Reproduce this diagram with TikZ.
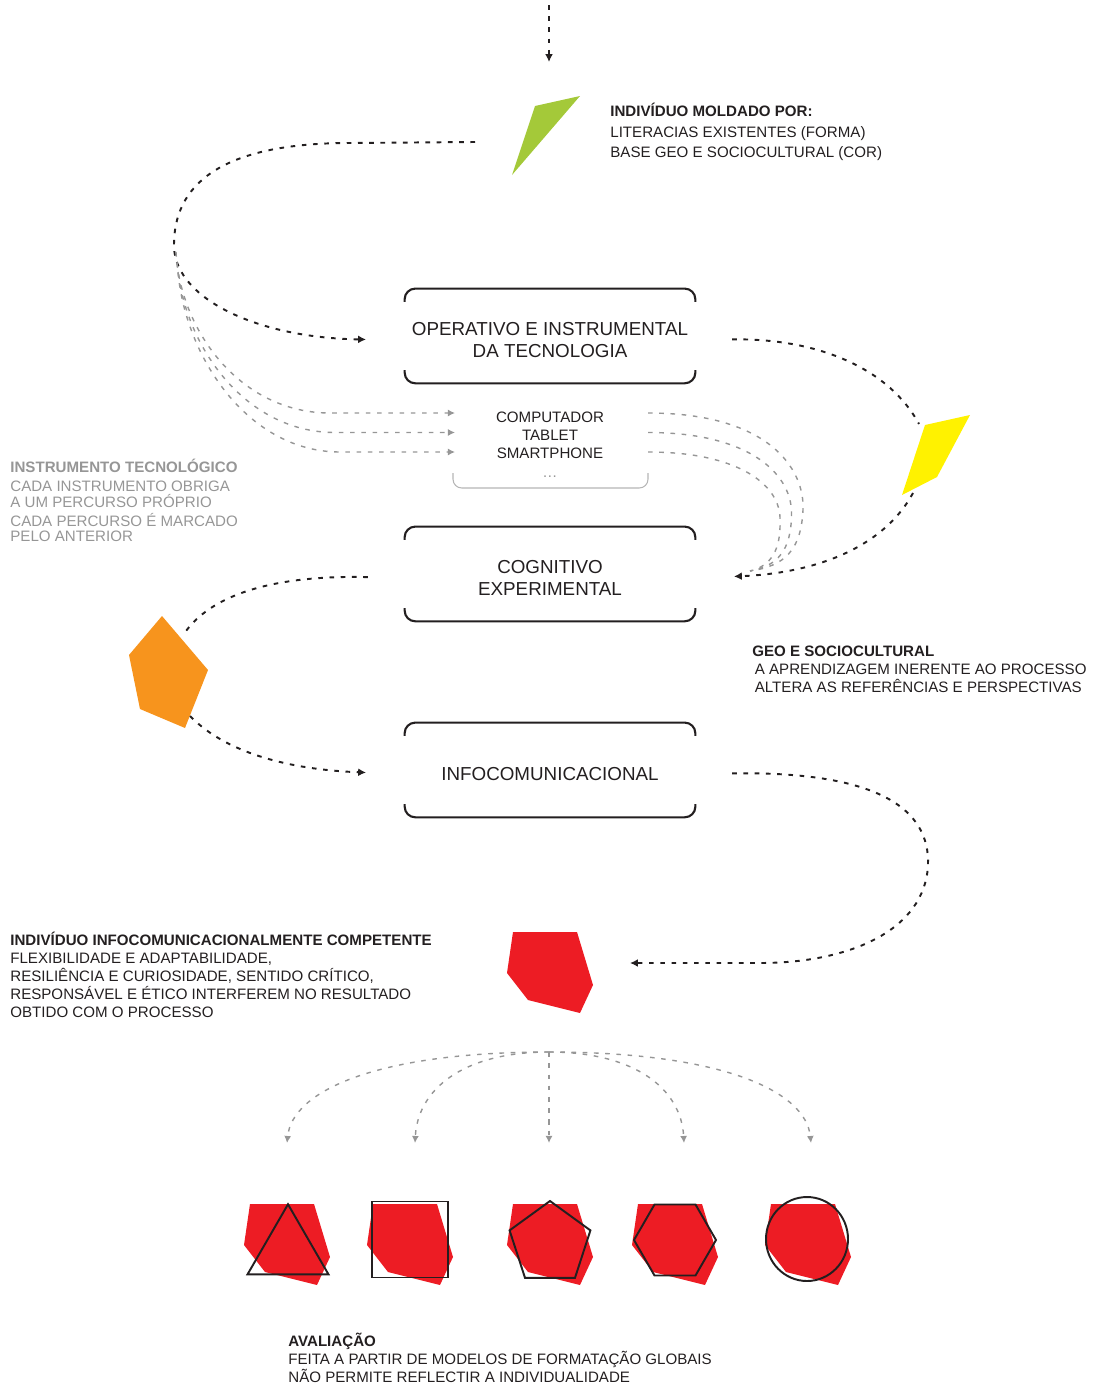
\documentclass[tikz,border=0pt]{standalone}
\usepackage{fontspec}
\setmainfont{Liberation Sans}
\usepackage{xcolor}
\usepackage{tikz}
\usetikzlibrary{shapes.geometric,arrows.meta}

\definecolor{ink}{RGB}{35,31,32}
\definecolor{mist}{RGB}{150,150,150}
\definecolor{leaf}{RGB}{164,201,57}
\definecolor{sun}{RGB}{255,242,0}
\definecolor{tang}{RGB}{247,148,29}
\definecolor{blood}{RGB}{237,28,36}

\begin{document}
\begin{tikzpicture}[
      x={(0.02cm,0)}, y={(0,-0.02cm)},
      link/.style={->,>={Latex[length=4.5pt,width=4.5pt]},draw=ink,line width=1.1pt,dash pattern=on 2.6pt off 3.8pt},
      glink/.style={link,draw=mist,line width=0.8pt,>={Latex[length=4pt,width=4pt]}},
      stage/.style={minimum width=5.8cm,minimum height=1.88cm,inner sep=0pt,align=center,text=ink,font=\fontsize{10.7}{12.5}\selectfont},
      bracket/.style={draw=ink,line width=1.2pt,rounded corners=6pt},
      note/.style={anchor=base west,inner sep=0pt,align=left,text=ink,font=\fontsize{8.6}{10.3}\selectfont},
      blob/.style={fill=blood},
      outline/.style={draw=ink,line width=1.1pt,inner sep=0pt,minimum size=#1}
]
\useasboundingbox (0,0) rectangle (1094,1386);

% the three stages
\node[stage] (opbox) at (550,340) {OPERATIVO E INSTRUMENTAL\\DA TECNOLOGIA};
\node[stage] (cogbox) at (550,578) {COGNITIVO\\EXPERIMENTAL};
\node[stage] (infobox) at (550,774) {INFOCOMUNICACIONAL};
\foreach \b in {opbox,cogbox,infobox}{
  \draw[bracket] ([yshift=-5.2pt]\b.north west) |- ([yshift=2.3pt]\b.north) -| ([yshift=-5.2pt]\b.north east);
  \draw[bracket] ([yshift=9.8pt]\b.south west) |- ([yshift=2.3pt]\b.south) -| ([yshift=9.8pt]\b.south east);
}

% instruments
\node[note,anchor=base,align=center] (devices) at (550,477) {COMPUTADOR\\TABLET\\SMARTPHONE\\{\color{mist}\dots}};
\draw[draw=mist!70,line width=0.6pt,rounded corners=5pt] (453,473) |- (550,488) -| (648,473);

% individual shapes
\fill[leaf] (535,106) -- (580,96) -- (512,175) -- cycle;
\fill[sun] (925,425) -- (970,415) -- (937,477) -- (902,495) -- cycle;
\fill[tang] (162,616) -- (208,670) -- (185,728) -- (140,709) -- (129,655) -- cycle;
\foreach \dx/\dy in {0/0,-263/272,-140/272,0/272,125/272,258/272}
  \fill[blob,shift={(\dx,\dy)}] (513,932) -- (577,932) -- (593,985) -- (580,1013) -- (528,1000) -- (507,973) -- cycle;

% evaluation models
\node[outline=1.87cm,regular polygon,regular polygon sides=3] (tri) at (288,1251) {};
\node[outline=2.15cm,regular polygon,regular polygon sides=4] (sq) at (410,1239.5) {};
\node[outline=1.70cm,regular polygon,regular polygon sides=5] (penta) at (550,1243.5) {};
\node[outline=1.64cm,regular polygon,regular polygon sides=6] (hexa) at (675,1240) {};
\node[outline=1.64cm,ellipse,minimum height=1.68cm] (oval) at (807,1239) {};

\coordinate (start) at (549,5);
\coordinate (entry) at (549,62);
\coordinate (greenL) at (475,142);
\coordinate (yellowT) at (919,424);
\coordinate (yellowB) at (913,493);
\coordinate (orangeT) at (186,631);
\coordinate (orangeB) at (190,716);
\coordinate (redR) at (630,963);
\coordinate (fan) at (549,1052);

% connectors
\draw[link] (start) -- (entry);
\draw[link,shorten >=22pt] (greenL) -- (350,143) .. controls (220,143) and (173,185) .. (174,247)
      .. controls (176,300) and (260,338) .. (opbox.west);
\foreach \i in {0,1,2}
  \draw[glink] (176+\i,252+10*\i) .. controls (180+3*\i,330+15*\i) and (240+5*\i,413+19.5*\i) .. (330+5*\i,413+19.5*\i) -- (455,413+19.5*\i);
\foreach \i in {0,1,2}
  \draw[glink,-] (648,413+19.5*\i) .. controls (770-15*\i,413+19.5*\i) and (805-12*\i,470+8*\i) .. (803-11.5*\i,510+5*\i)
      .. controls (801-10*\i,550) and (785-7*\i,566) .. (750,571);
\draw[link,-,shorten <=21pt] (opbox.east) .. controls (820,338) and (890,370) .. (yellowT);
\draw[link,shorten >=22pt] (yellowB) .. controls (885,545) and (820,573) .. (cogbox.east);
\draw[link,-,shorten <=21pt] (cogbox.west) .. controls (280,575) and (215,592) .. (orangeT);
\draw[link,shorten >=22pt] (orangeB) .. controls (230,757) and (300,770) .. (infobox.west);
\draw[link,shorten <=21pt] (infobox.east) .. controls (880,771) and (930,810) .. (928,865)
      .. controls (925,930) and (850,963) .. (760,963) -- (redR);
\foreach \e in {287,415,549,684,811}
  \draw[glink] (fan) .. controls ({549+(\e-549)*0.65},1052) and ({\e+(549-\e)*0.02},1090) .. (\e,1143);

% texts
\node[note] (mold) at (610,157.5) {\textbf{INDIVÍDUO MOLDADO POR:}\\[2pt]LITERACIAS EXISTENTES (FORMA)\\[1pt]BASE GEO E SOCIOCULTURAL (COR)};
\node[note,text=mist,font=\fontsize{8.6}{8.7}\selectfont] (instr) at (10,541.5) {\textbf{INSTRUMENTO TECNOLÓGICO}\\[2.1pt]CADA INSTRUMENTO OBRIGA\\A UM PERCURSO PRÓPRIO\\[2.1pt]CADA PERCURSO É MARCADO\\PELO ANTERIOR};
\node[note] (geo) at (752,692.5) {\textbf{GEO E SOCIOCULTURAL}\\\,A APRENDIZAGEM INERENTE AO PROCESSO\\\,ALTERA AS REFERÊNCIAS E PERSPECTIVAS};
\node[note] (competent) at (10,1017.5) {\textbf{INDIVÍDUO INFOCOMUNICACIONALMENTE COMPETENTE}\\FLEXIBILIDADE E ADAPTABILIDADE,\\RESILIÊNCIA E CURIOSIDADE, SENTIDO CRÍTICO,\\RESPONSÁVEL E ÉTICO INTERFEREM NO RESULTADO\\OBTIDO COM O PROCESSO};
\node[note] (evaluation) at (288,1382.5) {\textbf{AVALIAÇÃO}\\FEITA A PARTIR DE MODELOS DE FORMATAÇÃO GLOBAIS\\NÃO PERMITE REFLECTIR A INDIVIDUALIDADE};
\end{tikzpicture}
\end{document}
